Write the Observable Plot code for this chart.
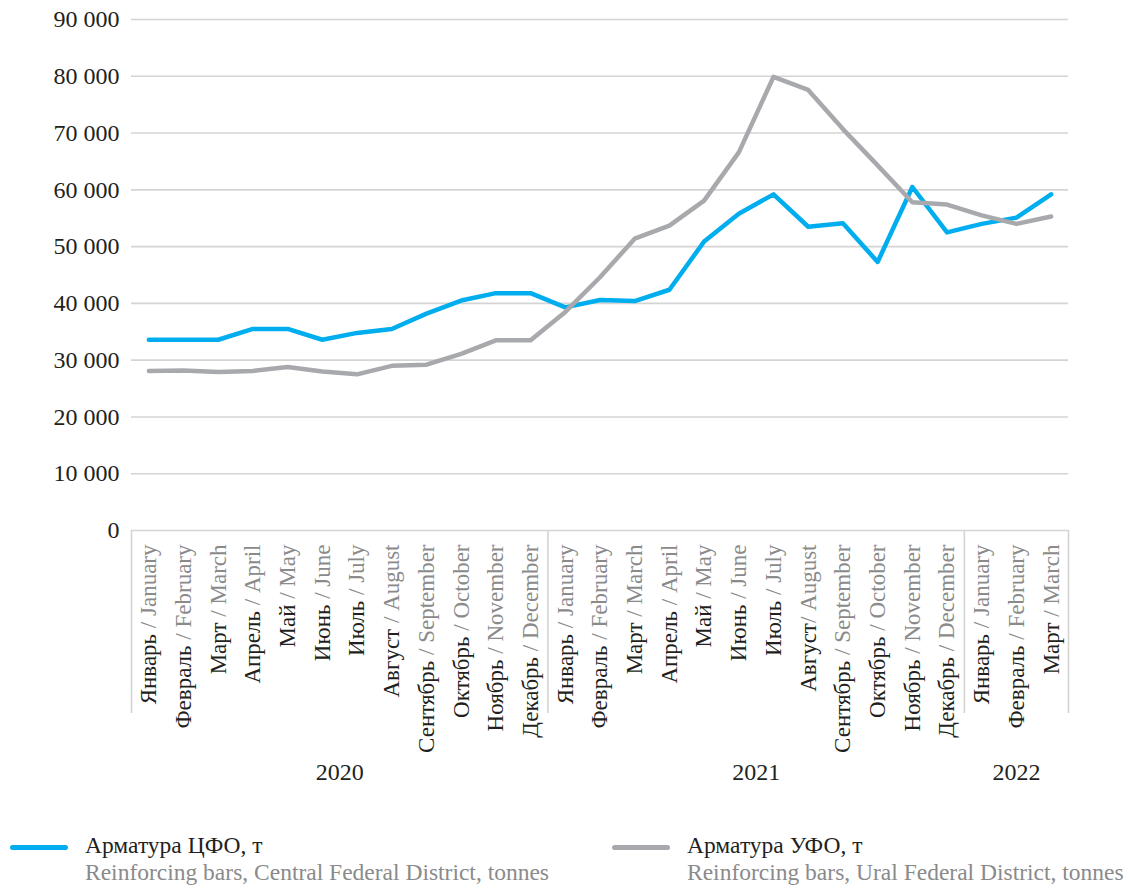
<!DOCTYPE html>
<html>
<head>
<meta charset="utf-8">
<script src="https://cdn.jsdelivr.net/npm/d3@7"></script>
<script src="https://cdn.jsdelivr.net/npm/@observablehq/plot@0.6"></script>
<style>
  body { margin: 0; background: #fff; font-family: "Liberation Serif", serif; }
  #chart { position: relative; width: 1138px; }
  #chart svg text { font-family: "Liberation Serif", serif; }
  #legend { position: relative; width: 1138px; height: 88px; }
  .item { position: absolute; top: 32px; }
  .sw { position: absolute; top: 13px; width: 58px; height: 5px; border-radius: 3px; }
  .t1 { position: absolute; left: 75px; top: 0px; font-size: 23.5px; color: #231f20; white-space: nowrap; }
  .t2 { position: absolute; left: 75px; top: 27px; font-size: 23.5px; color: #8a8a8a; white-space: nowrap; }
</style>
</head>
<body>
<div id="chart"></div>
<div id="legend"></div>
<script>
const monthsRu = ["Январь","Февраль","Март","Апрель","Май","Июнь","Июль","Август","Сентябрь","Октябрь","Ноябрь","Декабрь",
                  "Январь","Февраль","Март","Апрель","Май","Июнь","Июль","Август","Сентябрь","Октябрь","Ноябрь","Декабрь",
                  "Январь","Февраль","Март"];
const monthsEn = [" / January"," / February"," / March"," / April"," / May"," / June"," / July"," / August"," / September"," / October"," / November"," / December",
                  " / January"," / February"," / March"," / April"," / May"," / June"," / July","/ August"," / September"," / October"," / November"," / December",
                  " / January"," / February"," / March"];
const cfo = [33600,33600,33600,35500,35500,33600,34800,35500,38200,40500,41800,41800,
             39300,40600,40400,42400,50900,55800,59200,53500,54100,47300,60500,52500,
             54000,55100,59200];
const ufo = [28100,28200,27900,28100,28800,28000,27500,29000,29200,31100,33500,33500,
             38500,44600,51400,53700,58100,66600,79900,77600,70700,64300,57800,57400,
             55500,54000,55300];
const years = ["2020","2021","2022"];
const yearCenters = [5.5, 17.5, 25];
const separators = [-0.5, 11.5, 23.5, 26.5];
const yTicks = [0,10000,20000,30000,40000,50000,60000,70000,80000,90000];
const seriesNames = ["Арматура ЦФО, т", "Арматура УФО, т"];
const seriesEn = ["Reinforcing bars, Central Federal District, tonnes", "Reinforcing bars, Ural Federal District, tonnes"];
const colors = ["#00aeef", "#a7a9ac"];

const idx = d3.range(monthsRu.length);
const rows = [
  ...idx.map(i => ({i, v: cfo[i], s: seriesNames[0]})),
  ...idx.map(i => ({i, v: ufo[i], s: seriesNames[1]}))
];
const fmt = v => d3.format(",")(v).replace(/,/g, "\u00a0");
const FONT = "Liberation Serif, serif";

const plot = Plot.plot({
  width: 1138,
  height: 800,
  marginLeft: 131,
  marginRight: 70,
  marginTop: 19,
  marginBottom: 270,
  style: {fontFamily: FONT, fontSize: "22px", color: "#231f20", background: "#fff"},
  x: {domain: [-0.5, 26.5], label: null},
  y: {domain: [0, 90000], label: null},
  color: {domain: seriesNames, range: colors},
  marks: [
    Plot.ruleY(yTicks, {stroke: "#d4d4d4", strokeWidth: 1.6}),
    Plot.ruleX(separators, {stroke: "#d4d4d4", strokeWidth: 1.6, insetTop: 511, insetBottom: -183}),
    Plot.axisY({ticks: yTicks, tickFormat: fmt, tickSize: 0, tickPadding: 12, fontSize: 24, fontFamily: FONT, label: null}),
    Plot.axisX({ticks: idx, tickFormat: i => monthsRu[i] + "|" + monthsEn[i], tickSize: 0, tickPadding: 14, tickRotate: -90, fontSize: 23, fontFamily: FONT, label: null}),
    Plot.line(rows, {x: "i", y: "v", stroke: "s", strokeWidth: 4.5, strokeLinejoin: "round", strokeLinecap: "round"}),
    Plot.text(years, {x: (d, k) => yearCenters[k], frameAnchor: "bottom", dy: 249, text: d => d, fontSize: 24, fontFamily: FONT, fill: "#231f20"})
  ]
});

plot.querySelectorAll('g[aria-label="x-axis tick label"] text').forEach(t => {
  const parts = t.textContent.split("|");
  t.textContent = "";
  const a = document.createElementNS("http://www.w3.org/2000/svg", "tspan");
  a.textContent = parts[0];
  a.setAttribute("fill", "#231f20");
  const b = document.createElementNS("http://www.w3.org/2000/svg", "tspan");
  b.textContent = parts[1];
  b.setAttribute("fill", "#8a8a8a");
  t.style.whiteSpace = "pre";
  t.appendChild(a); t.appendChild(b);
});
document.getElementById("chart").appendChild(plot);

const legend = document.getElementById("legend");
const lefts = [10, 612];
seriesNames.forEach((name, k) => {
  const it = document.createElement("div");
  it.className = "item";
  it.style.left = lefts[k] + "px";
  it.innerHTML = `<div class="sw" style="background:${colors[k]}"></div><div class="t1">${name}</div><div class="t2">${seriesEn[k]}</div>`;
  legend.appendChild(it);
});
</script>
</body>
</html>
